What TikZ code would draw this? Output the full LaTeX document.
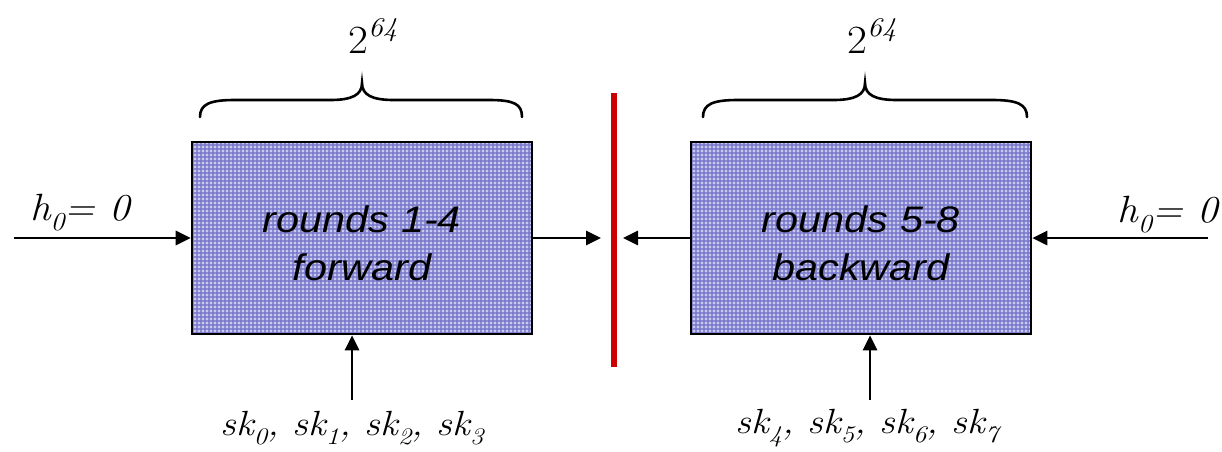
\documentclass[tikz,border=0pt]{standalone}
\usepackage{fontspec}
\usetikzlibrary{arrows.meta}
\setsansfont{Liberation Sans}
\definecolor{cellbase}{RGB}{202,202,238}
\definecolor{cellline}{RGB}{118,118,204}
\definecolor{cutred}{RGB}{204,0,0}
\newcommand{\lowidx}[1]{\raisebox{-0.28em}{\fontsize{0.68em}{1em}\selectfont #1}}
\newcommand{\widen}[1]{\scalebox{1.08}[1]{#1}}
\newcommand{\widebox}[1]{\raisebox{-5pt}[\height][\depth]{\scalebox{1.12}[1]{#1}}}
\tikzset{
  roundbox/.style={draw=black, line width=2.6pt, fill=cellbase,
    minimum width=340pt, minimum height=192pt, inner sep=0pt,
    align=center, font=\sffamily\itshape\fontsize{37}{48}\selectfont,
    path picture={
      \foreach \k in {0,...,86} {
        \draw[cellline, line width=1.1pt, opacity=0.75]
          ([xshift=\k*4pt+1pt]path picture bounding box.south west) --
          ([xshift=\k*4pt+1pt]path picture bounding box.north west);
      }
      \foreach \k in {0,...,49} {
        \draw[cellline, line width=1.1pt, opacity=0.75]
          ([yshift=\k*4pt+1pt]path picture bounding box.south west) --
          ([yshift=\k*4pt+1pt]path picture bounding box.south east);
      }
    }},
  feed/.style={-{Triangle[length=15pt,width=14pt]}, line width=2.8pt},
  lab/.style={inner sep=0pt, font=\rmfamily\itshape\fontsize{38}{40}\selectfont},
  keylab/.style={inner sep=0pt, font=\rmfamily\itshape\fontsize{35}{38}\selectfont},
  bracepath/.style={line width=2.6pt, line cap=round}
}
\begin{document}
\begin{tikzpicture}[x=1pt, y=-1pt]
\useasboundingbox (0,0) rectangle (1222,451);

% the two halves of the computation
\node[roundbox] (fwd) at (362,238) {\widebox{rounds 1-4}\\\widebox{forward}};
\node[roundbox] (bwd) at (861,238) {\widebox{rounds 5-8}\\\widebox{backward}};

% meeting point in the middle
\coordinate (cuttop) at (613.5,93);
\coordinate (cutbot) at (613.5,367);
\draw[cutred, line width=6pt] (cuttop) -- (cutbot);

% free ends of the connectors
\coordinate (inL) at (14,238);
\coordinate (inR) at (1208,238);
\coordinate (tipL) at (601,238);
\coordinate (tipR) at (623,238);
\coordinate (keyL) at (352,400);
\coordinate (keyR) at (870,400);

\draw[feed] (inL) -- (fwd.west);
\draw[feed] (inR) -- (bwd.east);
\draw[feed] (fwd.east) -- (tipL);
\draw[feed] (bwd.west) -- (tipR);
\draw[feed] (keyL) -- (keyL |- fwd.south);
\draw[feed] (keyR) -- (keyR |- bwd.south);

% inputs
\node[lab, anchor=base west] (hL) at (30,220) {\widen{h\lowidx{0}= 0}};
\node[lab, anchor=base east] (hR) at (1218,222) {\widen{h\lowidx{0}= 0}};
\node[keylab, anchor=base] (skL) at (352,435)
  {\scalebox{1.12}[1]{sk\lowidx{0}, sk\lowidx{1}, sk\lowidx{2}, sk\lowidx{3}}};
\node[keylab, anchor=base] (skR) at (867,433)
  {\scalebox{1.12}[1]{sk\lowidx{4}, sk\lowidx{5}, sk\lowidx{6}, sk\lowidx{7}}};

% braces with the work factor of each half
\draw[bracepath] (200,117) .. controls (200,104) and (210,100) .. (235,100)
  -- (330,100) .. controls (352,100) and (362,95) .. (362,83)
  .. controls (362,95) and (372,100) .. (394,100)
  -- (489,100) .. controls (514,100) and (522,104) .. (522,117);
\draw[bracepath] (703,117) .. controls (703,104) and (713,100) .. (738,100)
  -- (833,100) .. controls (855,100) and (865,95) .. (865,83)
  .. controls (865,95) and (875,100) .. (897,100)
  -- (992,100) .. controls (1017,100) and (1027,104) .. (1027,117);
\node[inner sep=0pt, anchor=base, font=\rmfamily\fontsize{40}{44}\selectfont]
  (wL) at (373,53) {\widen{2\raisebox{0.42em}{\fontsize{27}{30}\selectfont\itshape 64}}};
\node[inner sep=0pt, anchor=base, font=\rmfamily\fontsize{40}{44}\selectfont]
  (wR) at (872,53) {\widen{2\raisebox{0.42em}{\fontsize{27}{30}\selectfont\itshape 64}}};
\end{tikzpicture}
\end{document}
